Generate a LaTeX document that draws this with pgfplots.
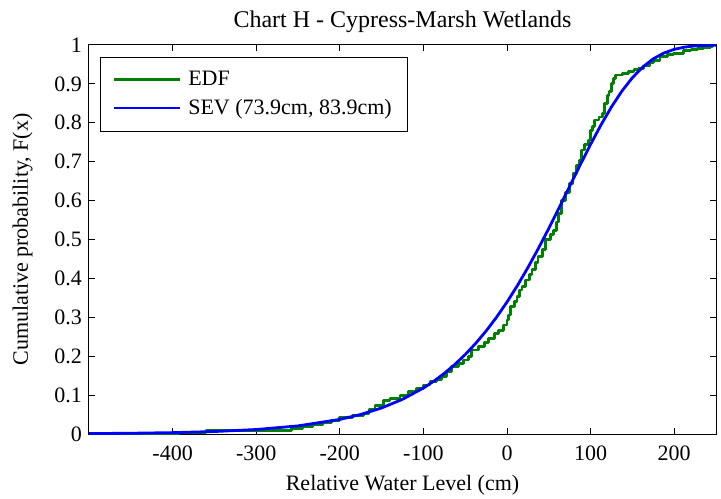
\documentclass[border=0pt]{standalone}
\usepackage{fontspec}
\setmainfont{Liberation Serif}
\usepackage{pgfplots}
\pgfplotsset{compat=1.18}
\definecolor{edfgreen}{rgb}{0,0.5,0}
\begin{document}
\begin{tikzpicture}
\begin{axis}[
    scale only axis,
    width=313.5pt, height=194.5pt,
    xmin=-500, xmax=250, ymin=0, ymax=1,
    xtick={-400,-300,-200,-100,0,100,200},
    xticklabels={-400,-300,-200,-100,0,100,200},
    ytick={0,0.1,0.2,0.3,0.4,0.5,0.6,0.7,0.8,0.9,1},
    yticklabels={0,0.1,0.2,0.3,0.4,0.5,0.6,0.7,0.8,0.9,1},
    tick align=inside,
    major tick length=3.2pt,
    axis line style={line width=0.5pt},
    every tick/.style={black, line width=0.5pt},
    tick label style={font=\fontsize{11}{13}\selectfont},
    xticklabel style={anchor=base, yshift=-13pt},
    xlabel={Relative Water Level (cm)},
    xlabel style={at={(axis description cs:0.5,0)}, anchor=base, yshift=-28pt, font=\fontsize{11}{13}\selectfont},
    ylabel={Cumulative probability, F(x)},
    ylabel style={at={(axis description cs:-0.0973,0.5)}, anchor=base, font=\fontsize{11}{13}\selectfont},
    title={Chart H - Cypress-Marsh Wetlands},
    title style={at={(axis description cs:0.5,1)}, anchor=base, yshift=2.5pt, font=\fontsize{12}{14}\selectfont},
    legend cell align=left,
    legend style={at={(axis description cs:0.01754,0.9699)}, anchor=north west,
        draw=black, line width=0.5pt, fill=white,
        font=\fontsize{11}{13}\selectfont,
        inner xsep=6pt, inner ysep=4.95pt, row sep=1.2pt, column sep=1.5pt},
    legend image code/.code={\draw[#1, line width=1.4pt] (0pt,0pt) -- (33pt,0pt);},
]
\coordinate (sw) at (rel axis cs:0,0);
% empirical distribution, read off the steps
\addplot[const plot, color=edfgreen, line width=1.4pt, line join=round] table {
x F
-500 0
-393 0.004
-360 0.008
-300 0.010
-258 0.014
-245 0.020
-232 0.025
-220 0.030
-210 0.035
-200 0.042
-185 0.047
-172 0.053
-165 0.062
-158 0.074
-148 0.087
-140 0.092
-128 0.100
-118 0.109
-108 0.117
-100 0.126
-92 0.134
-84 0.140
-78 0.147
-72 0.160
-66 0.173
-58 0.182
-52 0.190
-46 0.200
-42 0.216
-34 0.224
-27 0.235
-22 0.246
-15 0.258
-10 0.267
-4 0.280
0 0.293
2 0.306
4 0.327
9 0.340
12 0.353
15 0.370
18 0.379
22 0.396
27 0.410
30 0.422
34 0.440
37 0.456
42 0.475
46 0.499
52 0.512
56 0.524
59 0.545
62 0.567
65 0.600
70 0.620
75 0.644
79 0.670
83 0.690
86 0.704
89 0.730
93 0.745
97 0.756
100 0.780
102 0.790
105 0.807
110 0.815
114 0.824
117 0.850
120 0.870
122 0.880
125 0.900
127 0.914
130 0.923
138 0.927
145 0.931
152 0.936
157 0.940
163 0.946
170 0.955
175 0.961
183 0.970
192 0.975
199 0.979
211 0.985
220 0.988
228 0.990
235 0.993
243 0.996
246 1
250 1
};
\addlegendentry{EDF}
\addplot[color=blue, line width=1.4pt, line join=round] table {
x F
-500 0.00107
-450 0.00194
-400 0.00351
-350 0.00637
-300 0.01153
-250 0.02084
-200 0.0375
-175 0.0502
-150 0.0670
-125 0.0892
-100 0.1182
-87.5 0.1358
-75 0.1559
-62.5 0.1786
-50 0.2042
-37.5 0.2329
-25 0.2648
-12.5 0.3003
0 0.3393
12.5 0.3818
25 0.4278
37.5 0.4769
50 0.5286
62.5 0.5823
75 0.6370
87.5 0.6915
100 0.7446
112.5 0.7949
125 0.8410
137.5 0.8817
150 0.9160
162.5 0.9436
175 0.9645
187.5 0.9792
200 0.9888
212.5 0.9946
225 0.99766
250 0.99971
};
\addlegendentry{SEV (73.9cm, 83.9cm)}
\end{axis}
\pgfresetboundingbox
\path[use as bounding box] (sw) ++(-44.5pt,-32pt) rectangle ++(360.5pt,249pt);
\end{tikzpicture}
\end{document}
